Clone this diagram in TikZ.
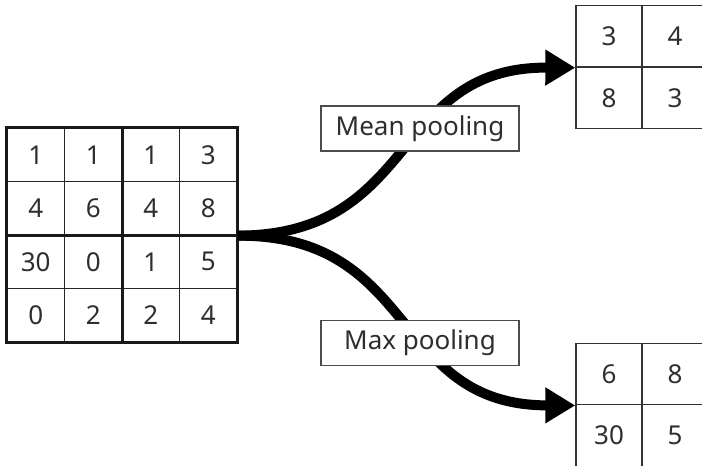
\documentclass[tikz,border=0pt]{standalone}
\usepackage{fontspec}
\setmainfont{Noto Sans}
\usetikzlibrary{arrows.meta}
\begin{document}
\begin{tikzpicture}[x=1pt,y=-1pt]
\tikzset{
  num/.style={font=\fontsize{26}{26}\selectfont, text=black!82},
  cellA/.style={num, draw=black!85, line width=1.3pt, minimum width=57.5pt, minimum height=53.5pt, inner sep=0pt},
  cellB/.style={num, draw=black!80, line width=1.4pt, minimum width=66pt, minimum height=61.5pt, inner sep=0pt},
  heavy/.style={draw=black!90, line width=3pt},
  lbl/.style={num, draw=black!70, line width=1.1pt, fill=white, minimum width=198pt, minimum height=45pt, inner sep=0pt},
  flow/.style={line width=10pt, -{Triangle[length=30pt,width=34pt]}},
}
\useasboundingbox (0,0) rectangle (702,466);
% main 4x4 grid
\foreach \r/\row in {1/{1,1,1,3}, 2/{4,6,4,8}, 3/{30,0,1,5}, 4/{0,2,2,4}} {
  \foreach \v [count=\c] in \row {
    \node[cellA] (a\r\c) at ({7+57.5*(\c-0.5)},{128+53.5*(\r-0.5)}) {\v};
  }
}
\draw[heavy] (a11.north west) rectangle (a44.south east);
\draw[heavy] (a12.north east) -- (a42.south east);
\draw[heavy] (a21.south west) -- (a24.south east);
% top-right 2x2 grid
\node[cellB] (b11) at (609,36.25) {3};
\node[cellB] (b12) at (675,36.25) {4};
\node[cellB] (b21) at (609,97.75) {8};
\node[cellB] (b22) at (675,97.75) {3};
% bottom-right 2x2 grid
\node[cellB] (c11) at (609,374) {6};
\node[cellB] (c12) at (675,374) {8};
\node[cellB] (c21) at (609,435.5) {30};
\node[cellB] (c22) at (675,435.5) {5};
% connectors
\coordinate (src) at (a24.south east);
\draw[flow] (src) .. controls (420,235) and (390,67) .. (b11.south west);
\draw[flow] (src) .. controls (420,235) and (390,405) .. (c11.south west);
% labels
\node[lbl] (mean) at (420,128.5) {Mean pooling};
\node[lbl] (max) at (420,343) {Max pooling};
\end{tikzpicture}
\end{document}
